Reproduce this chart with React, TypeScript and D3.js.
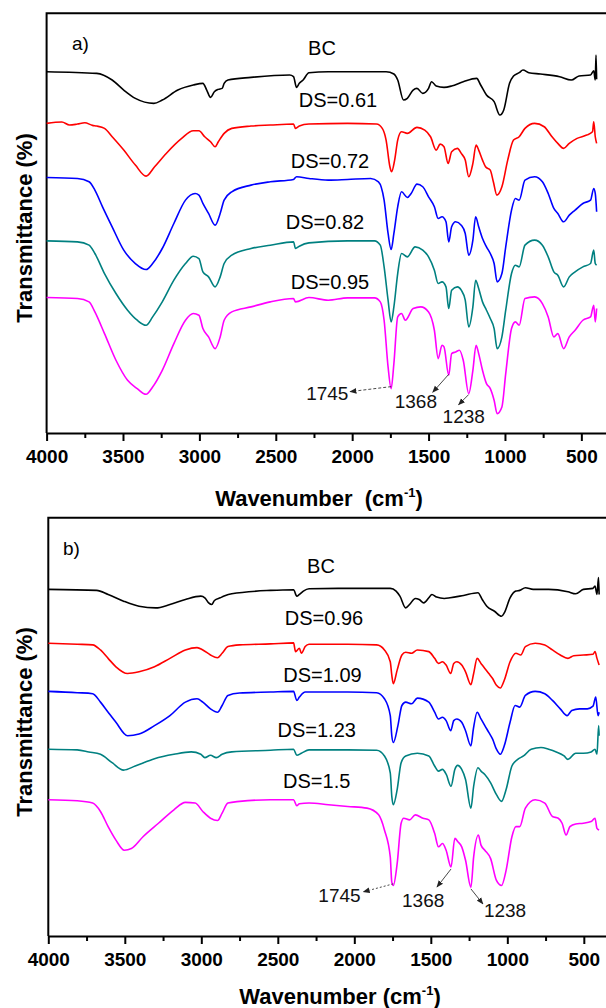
import React, { useEffect, useRef } from 'react';
import * as d3 from 'd3';

type Pt = [number, number];

const W = 606;
const H = 1008;

// wavenumber axis
const majorTicks = [4000, 3500, 3000, 2500, 2000, 1500, 1000, 500];
const minorTicks = [3750, 3250, 2750, 2250, 1750, 1250, 750];

const seriesColors = ['#000000', '#ff0000', '#0000ff', '#008080', '#ff00ff'];

const labelsA = ['BC', 'DS=0.61', 'DS=0.72', 'DS=0.82', 'DS=0.95'];
const labelsB = ['BC', 'DS=0.96', 'DS=1.09', 'DS=1.23', 'DS=1.5'];

// ---- panel a) spectra: [wavenumber cm-1, transmittance (a.u., stacked)] ----
const bcA: Pt[] = [
  [4000, 108.3], [3672, 107.8], [3571, 105.8], [3495, 102.8], [3419, 100.3], [3298, 98.8],
  [3243, 99.8], [3141, 102.8], [3040, 104.3], [2977, 104.8], [2952, 102.8], [2927, 100.6],
  [2902, 102.3], [2876, 103.0], [2851, 103.3], [2838, 104.8], [2813, 105.8], [2662, 106.6],
  [2409, 107.3], [2384, 106.8], [2364, 103.6], [2346, 104.8], [2321, 105.8], [2283, 108.0],
  [2157, 108.3], [1778, 108.3], [1727, 107.6], [1702, 105.8], [1664, 99.8], [1639, 100.3],
  [1601, 102.8], [1576, 103.3], [1538, 101.8], [1500, 103.3], [1480, 105.3], [1450, 104.0],
  [1399, 103.6], [1349, 104.0], [1273, 105.3], [1185, 106.3], [1159, 104.3], [1121, 101.3],
  [1071, 99.3], [1033, 95.3], [1008, 96.8], [970, 104.8], [944, 107.0], [907, 108.0],
  [882, 108.8], [844, 108.0], [768, 107.6], [642, 106.8], [566, 105.8], [515, 107.0],
  [440, 107.3], [419, 108.6], [409, 105.8], [404, 113.3], [400, 106.0],
];

const ds061: Pt[] = [
  [4000, 92.8], [3900, 93.2], [3850, 92.3], [3798, 92.6], [3750, 93.0], [3700, 92.2],
  [3672, 92.0], [3621, 91.3], [3571, 88.8], [3495, 84.8], [3419, 80.3], [3349, 77.0],
  [3293, 79.8], [3217, 83.8], [3116, 88.3], [3040, 90.6], [3003, 90.6], [2965, 88.8],
  [2927, 87.3], [2897, 85.8], [2876, 87.3], [2838, 89.8], [2788, 91.3], [2662, 92.0],
  [2536, 92.3], [2384, 92.6], [2371, 91.3], [2346, 92.0], [2283, 92.6], [2031, 92.8],
  [1841, 92.6], [1803, 91.3], [1778, 87.8], [1753, 79.8], [1742, 78.3], [1722, 81.8],
  [1702, 87.8], [1677, 90.3], [1639, 89.8], [1576, 91.6], [1525, 90.8], [1487, 88.8],
  [1450, 84.8], [1424, 86.6], [1399, 85.8], [1372, 80.8], [1349, 84.3], [1311, 85.3],
  [1286, 83.8], [1260, 81.8], [1237, 76.8], [1210, 80.8], [1189, 86.3], [1172, 84.8],
  [1147, 81.8], [1127, 79.8], [1096, 78.8], [1076, 75.3], [1053, 71.3], [1020, 73.8],
  [982, 81.8], [944, 87.8], [907, 88.8], [869, 91.3], [806, 92.8], [743, 91.8],
  [692, 88.8], [654, 86.8], [616, 85.3], [579, 86.8], [528, 88.3], [465, 89.3],
  [427, 90.3], [419, 93.3], [409, 88.8], [400, 86.8],
];

const ds072: Pt[] = [
  [4000, 76.6], [3798, 76.3], [3722, 75.3], [3684, 72.8], [3634, 67.8], [3571, 61.8],
  [3495, 54.8], [3419, 50.8], [3349, 49.0], [3306, 50.8], [3243, 55.3], [3167, 62.8],
  [3091, 69.8], [3028, 71.8], [3003, 71.3], [2977, 68.8], [2940, 65.8], [2897, 62.3],
  [2864, 65.8], [2838, 69.8], [2788, 72.3], [2662, 74.3], [2536, 75.3], [2384, 76.0],
  [2364, 76.8], [2283, 76.3], [2157, 75.8], [2031, 76.0], [1879, 76.3], [1828, 75.3],
  [1791, 69.8], [1765, 59.8], [1745, 55.0], [1727, 59.8], [1702, 67.8], [1677, 72.3],
  [1639, 70.6], [1614, 71.8], [1576, 74.6], [1538, 73.8], [1500, 70.8], [1462, 67.8],
  [1437, 64.3], [1412, 64.8], [1386, 63.3], [1368, 57.3], [1349, 61.8], [1323, 63.3],
  [1286, 62.3], [1260, 59.8], [1237, 53.3], [1210, 57.8], [1192, 64.8], [1172, 61.8],
  [1147, 58.3], [1121, 55.8], [1096, 53.8], [1071, 50.8], [1051, 45.3], [1020, 47.8],
  [995, 55.8], [957, 66.8], [932, 70.3], [907, 69.8], [869, 75.8], [806, 76.8],
  [755, 75.3], [717, 71.8], [680, 67.3], [654, 65.8], [616, 63.3], [579, 65.3],
  [541, 66.8], [490, 68.8], [440, 69.8], [419, 73.3], [409, 71.8], [400, 66.3],
];

const ds082: Pt[] = [
  [4000, 57.6], [3798, 57.3], [3722, 56.3], [3684, 53.8], [3621, 47.8], [3546, 41.8],
  [3470, 36.8], [3407, 33.8], [3349, 32.3], [3306, 34.8], [3243, 39.3], [3167, 45.8],
  [3091, 50.8], [3040, 53.0], [3003, 52.3], [2977, 48.3], [2940, 46.8], [2897, 43.8],
  [2864, 46.8], [2838, 50.8], [2788, 53.3], [2662, 55.3], [2536, 56.3], [2384, 57.3],
  [2371, 55.3], [2346, 56.0], [2283, 57.0], [2031, 57.6], [1854, 57.6], [1816, 56.3],
  [1791, 49.8], [1765, 39.8], [1745, 33.3], [1727, 37.8], [1702, 47.8], [1677, 53.8],
  [1639, 52.8], [1588, 55.8], [1538, 54.8], [1500, 52.8], [1462, 48.8], [1437, 44.8],
  [1412, 45.3], [1386, 43.8], [1368, 37.3], [1349, 42.8], [1311, 43.8], [1286, 42.8],
  [1260, 39.8], [1237, 31.8], [1210, 37.8], [1192, 45.8], [1172, 43.3], [1147, 39.3],
  [1121, 36.8], [1096, 34.3], [1071, 31.3], [1051, 25.3], [1020, 28.8], [995, 36.8],
  [957, 47.8], [932, 50.3], [907, 49.8], [869, 56.3], [806, 57.8], [755, 56.3],
  [717, 52.8], [680, 48.3], [654, 47.3], [616, 43.8], [579, 46.8], [541, 48.3],
  [490, 49.8], [440, 50.8], [419, 54.8], [409, 50.8], [400, 50.3],
];

const ds095: Pt[] = [
  [4000, 40.6], [3798, 40.3], [3722, 39.3], [3684, 36.3], [3621, 29.8], [3546, 21.8],
  [3470, 15.8], [3407, 13.3], [3349, 11.6], [3306, 13.8], [3243, 18.8], [3167, 26.8],
  [3091, 33.8], [3040, 35.8], [3003, 35.3], [2977, 31.3], [2940, 28.8], [2897, 25.3],
  [2864, 28.8], [2838, 33.8], [2788, 36.3], [2662, 37.8], [2536, 39.3], [2384, 40.3],
  [2371, 39.3], [2283, 40.6], [2157, 39.8], [2031, 40.5], [1854, 40.5], [1816, 39.3],
  [1791, 33.8], [1765, 19.8], [1745, 13.3], [1727, 20.8], [1702, 34.8], [1677, 35.8],
  [1652, 33.8], [1601, 37.3], [1551, 37.8], [1500, 36.3], [1462, 30.8], [1437, 22.3],
  [1412, 26.3], [1399, 25.8], [1368, 17.3], [1349, 23.8], [1323, 24.3], [1298, 24.8],
  [1273, 21.8], [1237, 11.8], [1210, 18.8], [1189, 26.3], [1172, 23.8], [1147, 18.8],
  [1121, 14.8], [1096, 13.3], [1071, 9.8], [1051, 5.8], [1020, 7.8], [995, 17.8],
  [957, 31.3], [932, 33.3], [907, 32.3], [869, 40.3], [806, 40.8], [755, 38.8],
  [717, 34.8], [680, 28.8], [654, 29.8], [616, 25.3], [579, 28.8], [541, 30.8],
  [490, 33.8], [440, 34.8], [419, 38.3], [409, 33.3], [400, 37.3],
];

// ---- panel b) spectra ----
const bcB: Pt[] = [
  [4000, 103.0], [3684, 102.7], [3609, 101.5], [3508, 99.5], [3407, 98.0], [3298, 97.5],
  [3205, 98.5], [3104, 100.0], [3003, 101.0], [2977, 100.5], [2952, 99.0], [2932, 98.5],
  [2914, 99.7], [2876, 100.5], [2851, 101.0], [2801, 101.7], [2548, 102.7], [2397, 102.9],
  [2376, 101.0], [2359, 101.5], [2333, 102.5], [2296, 103.2], [2043, 103.3], [1765, 103.3],
  [1727, 102.5], [1702, 101.0], [1664, 97.5], [1639, 98.5], [1601, 100.3], [1576, 100.0],
  [1546, 99.0], [1513, 100.5], [1493, 101.5], [1462, 100.7], [1412, 100.3], [1374, 100.5],
  [1286, 101.2], [1192, 102.0], [1164, 100.0], [1134, 98.0], [1084, 96.5], [1038, 95.0],
  [1020, 96.0], [982, 100.5], [944, 102.5], [919, 102.7], [882, 103.5], [831, 103.0],
  [730, 103.0], [604, 102.3], [553, 101.7], [503, 103.0], [440, 103.3], [427, 104.0],
  [414, 101.5], [404, 106.5], [400, 101.5],
];

const ds096: Pt[] = [
  [4000, 87.0], [3811, 86.7], [3710, 86.5], [3659, 85.0], [3609, 82.5], [3558, 80.0],
  [3482, 78.0], [3407, 78.5], [3306, 80.0], [3205, 82.5], [3104, 85.0], [3028, 85.7],
  [2990, 85.0], [2940, 83.5], [2894, 82.7], [2864, 84.0], [2826, 86.0], [2750, 86.5],
  [2548, 86.8], [2397, 87.1], [2384, 84.5], [2359, 85.5], [2346, 84.0], [2321, 86.0],
  [2296, 86.7], [2043, 86.7], [1854, 86.5], [1803, 85.0], [1765, 81.5], [1755, 77.5],
  [1745, 75.0], [1720, 79.0], [1689, 83.5], [1664, 84.3], [1626, 84.0], [1588, 85.0],
  [1513, 84.5], [1475, 82.5], [1450, 81.0], [1424, 81.5], [1400, 80.5], [1370, 78.0],
  [1350, 81.0], [1330, 81.5], [1298, 80.5], [1273, 78.5], [1238, 74.7], [1220, 78.0],
  [1197, 82.5], [1172, 81.0], [1147, 79.5], [1121, 78.0], [1096, 76.5], [1071, 74.5],
  [1046, 73.7], [1020, 76.0], [982, 81.5], [944, 84.0], [912, 83.5], [882, 86.0],
  [818, 87.0], [755, 86.5], [705, 85.0], [654, 83.5], [604, 82.5], [566, 83.3],
  [503, 83.5], [440, 83.7], [427, 84.5], [414, 82.5], [400, 80.5],
];

const ds109: Pt[] = [
  [4000, 72.7], [3811, 72.3], [3710, 72.0], [3659, 69.5], [3609, 66.5], [3558, 63.5],
  [3482, 59.5], [3407, 60.0], [3306, 62.5], [3205, 65.5], [3104, 69.5], [3028, 70.5],
  [2990, 69.5], [2940, 67.5], [2894, 66.5], [2864, 68.5], [2826, 71.5], [2750, 72.2],
  [2548, 72.5], [2397, 72.7], [2376, 70.0], [2359, 71.0], [2321, 72.5], [2043, 72.5],
  [1854, 72.3], [1803, 70.5], [1765, 65.5], [1755, 59.5], [1745, 57.5], [1715, 62.5],
  [1689, 68.5], [1664, 69.5], [1626, 69.0], [1588, 70.7], [1513, 69.5], [1475, 66.5],
  [1450, 64.5], [1424, 65.0], [1400, 64.0], [1370, 61.0], [1350, 64.0], [1330, 64.5],
  [1298, 63.5], [1273, 61.0], [1238, 56.5], [1222, 61.5], [1197, 66.5], [1172, 64.5],
  [1147, 62.5], [1121, 60.5], [1096, 58.5], [1071, 55.5], [1046, 54.0], [1020, 56.5],
  [982, 63.5], [949, 68.5], [919, 68.0], [882, 71.5], [818, 72.7], [755, 72.0],
  [705, 70.0], [654, 67.5], [609, 65.5], [579, 67.0], [528, 67.5], [477, 67.5],
  [440, 68.3], [422, 71.0], [407, 65.5], [400, 66.5],
];

const ds123: Pt[] = [
  [4000, 55.5], [3811, 55.3], [3735, 54.7], [3659, 54.0], [3583, 51.5], [3508, 49.3],
  [3432, 50.5], [3306, 52.7], [3179, 54.0], [3066, 54.7], [3003, 54.0], [2977, 53.0],
  [2940, 53.7], [2902, 53.0], [2864, 54.0], [2801, 54.7], [2548, 55.2], [2397, 55.5],
  [2376, 53.7], [2346, 54.3], [2296, 55.3], [2043, 55.3], [1854, 55.2], [1803, 53.5],
  [1765, 48.5], [1755, 41.5], [1745, 39.0], [1720, 43.5], [1694, 51.5], [1664, 53.5],
  [1588, 54.3], [1513, 53.5], [1475, 50.5], [1450, 49.0], [1424, 49.5], [1399, 48.0],
  [1368, 44.5], [1343, 49.5], [1325, 50.7], [1298, 49.5], [1273, 46.5], [1238, 38.0],
  [1220, 44.5], [1192, 50.0], [1172, 49.0], [1147, 48.0], [1109, 45.5], [1071, 42.0],
  [1038, 40.0], [1008, 43.5], [970, 50.5], [932, 52.5], [894, 53.5], [844, 55.5],
  [780, 56.0], [730, 55.5], [680, 54.7], [629, 53.5], [604, 52.5], [553, 54.3],
  [503, 54.3], [452, 54.7], [427, 55.5], [414, 54.0], [403, 62.5], [400, 59.5],
];

const ds150: Pt[] = [
  [4000, 40.5], [3811, 40.2], [3710, 39.5], [3659, 37.0], [3609, 32.5], [3558, 28.5],
  [3503, 25.5], [3457, 26.0], [3381, 29.5], [3280, 33.5], [3179, 37.5], [3104, 39.7],
  [3040, 39.5], [2990, 37.0], [2940, 35.0], [2894, 34.3], [2864, 36.5], [2826, 39.5],
  [2750, 40.0], [2548, 40.5], [2397, 40.5], [2376, 38.7], [2359, 39.3], [2296, 39.5],
  [2169, 39.0], [2043, 38.5], [1917, 38.0], [1841, 36.0], [1803, 31.5], [1765, 23.5],
  [1755, 16.0], [1745, 15.0], [1720, 21.5], [1694, 33.5], [1677, 35.0], [1639, 34.5],
  [1601, 36.0], [1551, 35.0], [1513, 34.5], [1475, 30.5], [1450, 26.5], [1424, 27.5],
  [1400, 25.5], [1368, 20.5], [1343, 29.0], [1323, 28.0], [1298, 26.5], [1273, 22.5],
  [1238, 14.5], [1220, 23.5], [1189, 30.0], [1172, 27.0], [1147, 25.5], [1109, 23.0],
  [1071, 16.5], [1038, 15.0], [1008, 19.5], [970, 29.5], [944, 32.5], [919, 32.5],
  [882, 38.0], [818, 40.5], [755, 39.5], [705, 35.5], [667, 35.0], [642, 33.5],
  [616, 30.0], [591, 32.5], [553, 33.3], [503, 33.5], [452, 34.0], [427, 35.0],
  [414, 32.0], [400, 31.5],
];

// peak markers, tail at the peak of the last spectrum
const peaksA = [
  { label: '1745', w: 1745, t: 13.9, hx: -41, hy: 5, tx: -44, ty: 8, dash: '3,2' },
  { label: '1368', w: 1368, t: 17.6, hx: -16, hy: 18, tx: -38, ty: 16, dash: null },
  { label: '1238', w: 1238, t: 11.5, hx: -10, hy: 10, tx: -16, ty: 18, dash: null },
];
const peaksB = [
  { label: '1745', w: 1745, t: 15.5, hx: -30, hy: 8, tx: -45, ty: 10, dash: '2,2' },
  { label: '1368', w: 1368, t: 19.9, hx: -14, hy: 18, tx: -35, ty: 20, dash: null },
  { label: '1238', w: 1238, t: 14.0, hx: 12, hy: 15, tx: 1, ty: 13, dash: null },
];

const panels = [
  {
    left: 46.6, right: 605.8, top: 13.3, bottom: 433, yMax: 125.8,
    series: [bcA, ds061, ds072, ds082, ds095], labels: labelsA,
    labelPos: [[322, 55], [338, 107], [330, 167.5], [325, 229], [330, 288.5]],
    tag: 'a)', tagPos: [72, 50], peaks: peaksA,
    xTitle: 'Wavenumber\u00a0\u00a0(cm', xTitlePos: [319, 506], yTitleY: 228,
  },
  {
    left: 48.3, right: 608.3, top: 517.7, bottom: 936, yMax: 124.3,
    series: [bcB, ds096, ds109, ds123, ds150], labels: labelsB,
    labelPos: [[321, 573], [324, 625], [322.5, 682.4], [316.7, 737], [316.7, 788.4]],
    tag: 'b)', tagPos: [63, 555], peaks: peaksB,
    xTitle: 'Wavenumber (cm', xTitlePos: [340, 1004], yTitleY: 722,
  },
];

const FONT = '"Liberation Sans", Arial, Helvetica, sans-serif';

const App = () => {
  const ref = useRef<SVGSVGElement | null>(null);

  useEffect(() => {
    document.body.style.margin = '0';
    const svg = d3.select(ref.current);
    svg.selectAll('*').remove();

    const defs = svg.append('defs');
    defs.append('marker')
      .attr('id', 'arrowHead')
      .attr('viewBox', '0 0 10 10')
      .attr('refX', 9)
      .attr('refY', 5)
      .attr('markerWidth', 7)
      .attr('markerHeight', 7)
      .attr('markerUnits', 'userSpaceOnUse')
      .attr('orient', 'auto')
      .append('path')
      .attr('d', 'M0,1L10,5L0,9Z')
      .attr('fill', '#222');

    svg.append('rect').attr('width', W).attr('height', H).attr('fill', '#ffffff');

    panels.forEach((p) => {
      const x = d3.scaleLinear().domain([4000, 340]).range([p.left, p.right]);
      const y = d3.scaleLinear().domain([0, p.yMax]).range([p.bottom, p.top]);
      const g = svg.append('g');

      // left + top frame
      g.append('path')
        .attr('d', `M${p.left},${p.bottom}V${p.top}H${W + 5}`)
        .attr('fill', 'none')
        .attr('stroke', '#000')
        .attr('stroke-width', 2);

      // x axis
      const ax = g.append('g')
        .attr('transform', `translate(0, ${p.bottom})`)
        .call(d3.axisBottom(x).tickValues(majorTicks).tickSize(8).tickPadding(9).tickSizeOuter(0).tickFormat(d3.format('d')));
      ax.select('.domain').attr('stroke-width', 2);
      ax.selectAll('.tick line').attr('stroke-width', 2);
      ax.selectAll('.tick text')
        .style('font-family', FONT)
        .style('font-size', '19px')
        .style('font-weight', 'bold')
        .attr('fill', '#000');

      const minor = g.append('g')
        .attr('transform', `translate(0, ${p.bottom})`)
        .call(d3.axisBottom(x).tickValues(minorTicks).tickSize(5).tickFormat(() => ''));
      minor.select('.domain').remove();
      minor.selectAll('.tick line').attr('stroke-width', 2);

      // spectra
      const line = d3.line<Pt>()
        .x((d) => x(d[0]))
        .y((d) => y(d[1]))
        .curve(d3.curveMonotoneX);

      p.series.forEach((s, i) => {
        g.append('path')
          .datum(s)
          .attr('fill', 'none')
          .attr('stroke', seriesColors[i])
          .attr('stroke-width', 1.6)
          .attr('stroke-linejoin', 'round')
          .attr('d', line);
      });

      // series labels
      p.labels.forEach((lab, i) => {
        g.append('text')
          .attr('x', p.labelPos[i][0])
          .attr('y', p.labelPos[i][1])
          .attr('text-anchor', 'middle')
          .style('font-family', FONT)
          .style('font-size', '20px')
          .attr('fill', '#000')
          .text(lab);
      });

      g.append('text')
        .attr('x', p.tagPos[0])
        .attr('y', p.tagPos[1])
        .style('font-family', FONT)
        .style('font-size', '19px')
        .text(p.tag);

      // peak arrows
      p.peaks.forEach((pk) => {
        const x0 = x(pk.w);
        const y0 = y(pk.t);
        g.append('line')
          .attr('x1', x0)
          .attr('y1', y0)
          .attr('x2', x0 + pk.hx)
          .attr('y2', y0 + pk.hy)
          .attr('stroke', '#333')
          .attr('stroke-width', 0.9)
          .attr('stroke-dasharray', pk.dash)
          .attr('marker-end', 'url(#arrowHead)');
        g.append('text')
          .attr('x', x0 + pk.hx + pk.tx)
          .attr('y', y0 + pk.hy + pk.ty)
          .style('font-family', FONT)
          .style('font-size', '19px')
          .attr('fill', '#111')
          .text(pk.label);
      });

      // axis titles
      const xt = g.append('text')
        .attr('x', p.xTitlePos[0])
        .attr('y', p.xTitlePos[1])
        .attr('text-anchor', 'middle')
        .style('font-family', FONT)
        .style('font-size', '22px')
        .style('font-weight', 'bold');
      xt.append('tspan').text(p.xTitle);
      xt.append('tspan').attr('dy', -9).style('font-size', '13px').text('-1');
      xt.append('tspan').attr('dy', 9).text(')');

      g.append('text')
        .attr('transform', `translate(32, ${p.yTitleY}) rotate(-90)`)
        .attr('text-anchor', 'middle')
        .style('font-family', FONT)
        .style('font-size', '22px')
        .style('font-weight', 'bold')
        .text('Transmittance (%)');
    });
  }, []);

  return <svg ref={ref} width={W} height={H} style={{ display: 'block' }} />;
};

export default App;
